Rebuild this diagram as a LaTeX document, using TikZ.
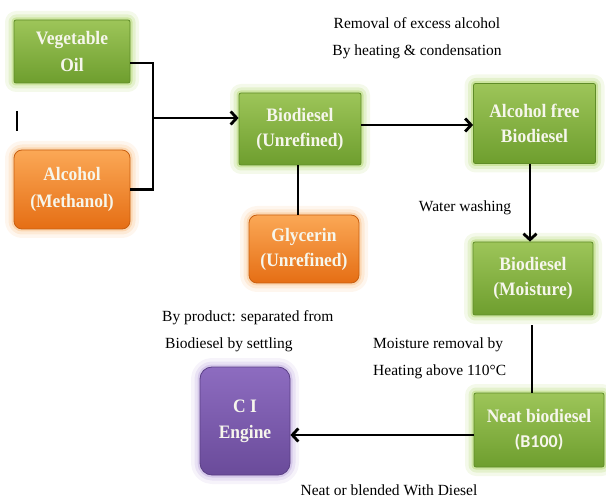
\documentclass[tikz,border=0pt]{standalone}
\usepackage{fontspec}
\setmainfont{Liberation Serif}
\newfontfamily\calib{Carlito}
\newfontfamily\boxfont[FakeStretch=0.92]{Liberation Serif}
\usetikzlibrary{arrows.meta}
\definecolor{gtop}{HTML}{9DC559}
\definecolor{gbot}{HTML}{6E9E2E}
\definecolor{gedge}{HTML}{5F8C28}
\definecolor{gglow}{HTML}{B5D974}
\definecolor{otop}{HTML}{FBA856}
\definecolor{obot}{HTML}{E56E14}
\definecolor{oedge}{HTML}{C85F10}
\definecolor{oglow}{HTML}{F9C58E}
\definecolor{ptop}{HTML}{8D6CC0}
\definecolor{pbot}{HTML}{6A4B9A}
\definecolor{pedge}{HTML}{5A3F85}
\definecolor{pglow}{HTML}{C2AEE0}
\definecolor{boxtext}{HTML}{F6F6EC}
\tikzset{
  box/.style={inner sep=0pt, align=center, text=boxtext, line join=round,
    font=\boxfont\bfseries\fontsize{19}{25}\selectfont},
  greenbox/.style={box, rounded corners=2pt, top color=gtop, bottom color=gbot,
    draw=gedge, line width=0.8pt,
    preaction={draw=gglow, line width=18pt, opacity=0.15},
    preaction={draw=gglow, line width=11pt, opacity=0.25},
    preaction={draw=gglow, line width=5pt, opacity=0.5}},
  orangebox/.style={box, rounded corners=8pt, top color=otop, bottom color=obot,
    draw=oedge, line width=0.8pt,
    preaction={draw=oglow, line width=18pt, opacity=0.15},
    preaction={draw=oglow, line width=11pt, opacity=0.25},
    preaction={draw=oglow, line width=5pt, opacity=0.5}},
  purplebox/.style={box, rounded corners=12pt, top color=ptop, bottom color=pbot,
    draw=pedge, line width=0.8pt,
    preaction={draw=pglow, line width=18pt, opacity=0.15},
    preaction={draw=pglow, line width=11pt, opacity=0.25},
    preaction={draw=pglow, line width=5pt, opacity=0.5}},
  conn/.style={line width=2.8pt, line join=miter},
  arr/.style={conn, -{Straight Barb[length=6pt,width=13pt]}},
  lbl/.style={font=\fontsize{15.5}{27}\selectfont, inner sep=0pt},
}
\begin{document}
\begin{tikzpicture}[x=1pt,y=-1pt]
\useasboundingbox (0,0) rectangle (606,500);

\node[greenbox, minimum width=116pt, minimum height=63pt,
  font=\boxfont\bfseries\fontsize{19}{27}\selectfont] (veg) at (72,51.5) {Vegetable\\Oil};
\node[orangebox, minimum width=116pt, minimum height=79pt,
  font=\boxfont\bfseries\fontsize{19}{27}\selectfont] (alc) at (72,189.5) {Alcohol\\(Methanol)};
\node[greenbox, minimum width=122pt, minimum height=72pt] (bio) at (300,129) {Biodiesel\\(Unrefined)};
\node[orangebox, minimum width=110pt, minimum height=68pt] (gly) at (304,249) {Glycerin\\(Unrefined)};
\node[greenbox, minimum width=122pt, minimum height=80pt] (afb) at (534.5,123.5) {Alcohol free\\Biodiesel};
\node[greenbox, minimum width=120pt, minimum height=73pt] (moist) at (533,278.5) {Biodiesel\\(Moisture)};
\node[greenbox, minimum width=130pt, minimum height=74pt] (neat) at (539,430) {Neat biodiesel\\{\calib\fontsize{18}{25}\selectfont (B100)}};
\node[purplebox, minimum width=90pt, minimum height=108pt,
  font=\boxfont\bfseries\fontsize{19}{26}\selectfont] (eng) at (245,421) {C I\\Engine};

% connectors
\coordinate (j) at (153,118);
\draw[conn] ([yshift=-11.5pt]veg.east) -| (j) |- (alc.east);
\draw[arr] (j) -- (bio.west |- j);
\draw[arr] (bio.east |- 0,125) -- (afb.west |- 0,125);
\draw[conn] (bio.south -| 298,0) -- (gly.north -| 298,0);
\draw[arr] (afb.south -| 530,0) -- (moist.north -| 530,0);
\draw[conn] ([yshift=-10pt]moist.south -| 532,0) -- (neat.north -| 532,0);
\draw[arr] (neat.west |- 0,435) -- (eng.east |- 0,435);

% stray mark
\draw[line width=1.6pt] (17,111) -- (17,131);

% labels
\node[lbl, align=center] (l1) at (417,38) {Removal of excess alcohol\\By heating \& condensation};
\node[lbl] (l2) at (465,208) {Water washing};
\node[lbl, align=left, anchor=west] (l3) at (162,331.5) {By product: separated from\\\hspace{3pt}Biodiesel by settling};
\node[lbl, align=left, anchor=west] (l4) at (373,358.5) {Moisture removal by\\Heating above 110°C};
\node[lbl] (l5) at (389,490) {Neat or blended With Diesel};
\end{tikzpicture}
\end{document}
